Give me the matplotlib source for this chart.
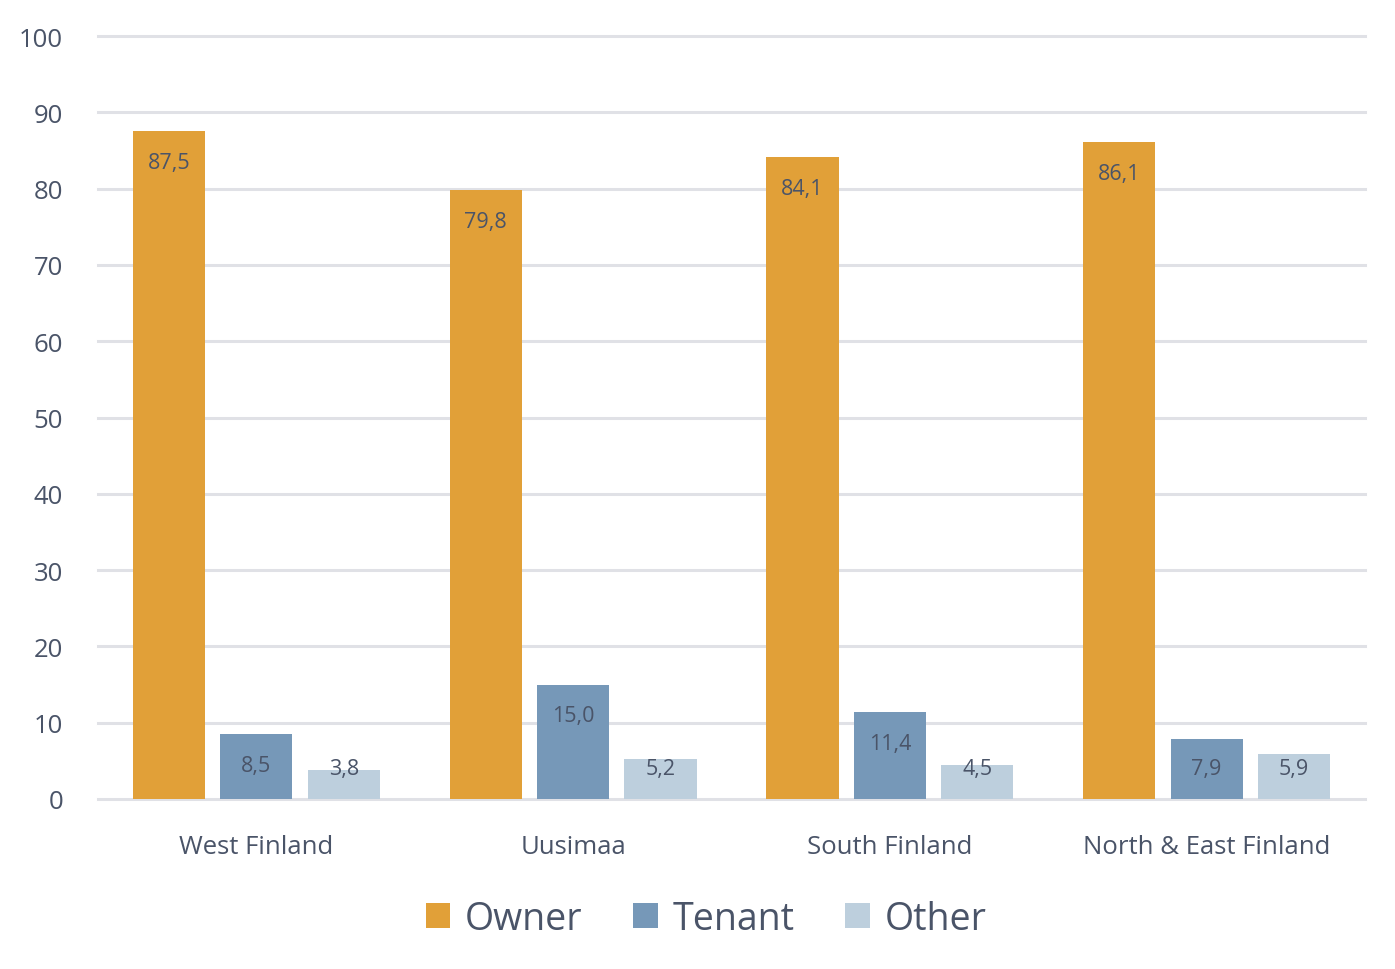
import numpy as np
import matplotlib
matplotlib.use("Agg")
import matplotlib.pyplot as plt

regions = ["West Finland", "Uusimaa", "South Finland", "North & East Finland"]
series = ["Owner", "Tenant", "Other"]
owner = [87.5, 79.8, 84.1, 86.1]
tenant = [8.5, 15.0, 11.4, 7.9]
other = [3.8, 5.2, 4.5, 5.9]
colors = ["#E1A038", "#7698B8", "#BDCFDD"]
TXT = "#4A5468"

plt.rcParams['font.family'] = ['Open Sans', 'DejaVu Sans']

fig = plt.figure(figsize=(13.95, 9.70), dpi=100)
ax = fig.add_axes([98/1395, 170/970, 1267/1395, 763/970])

x = np.arange(len(regions))
width = 0.228
step = 0.276
for i, (vals, name) in enumerate(zip([owner, tenant, other], series)):
    pos = x + (i - 1) * step
    ax.bar(pos, vals, width, color=colors[i], label=name, zorder=3)
    for p, v in zip(pos, vals):
        y = max(v - 4.1, 4.05)
        ax.text(p, y, f"{v:.1f}".replace(".", ","), ha="center", va="center",
                fontsize=15.5, color=TXT, zorder=4)

ax.set_xlim(-0.5, len(regions) - 0.5)
ax.set_ylim(0, 100)
ax.set_yticks(np.arange(0, 101, 10))
ax.grid(axis="y", color="#E0E1E6", linewidth=2.2, zorder=0)
for gl in ax.get_ygridlines():
    gl.set_clip_on(False)
for s in ax.spines.values():
    s.set_visible(False)
ax.tick_params(axis="both", length=0, labelsize=18.5, colors=TXT)
ax.tick_params(axis="y", pad=25)
ax.tick_params(axis="x", pad=25)
ax.set_xticks(x)
ax.set_xticklabels(regions)

leg = fig.legend(loc="center", bbox_to_anchor=(706/1395, 1 - 920/970), ncol=3,
                 frameon=False, fontsize=27, handlelength=0.65, handleheight=0.65,
                 handletextpad=0.4, columnspacing=1.35)
for t in leg.get_texts():
    t.set_color(TXT)

fig.savefig("out.png", dpi=100)
